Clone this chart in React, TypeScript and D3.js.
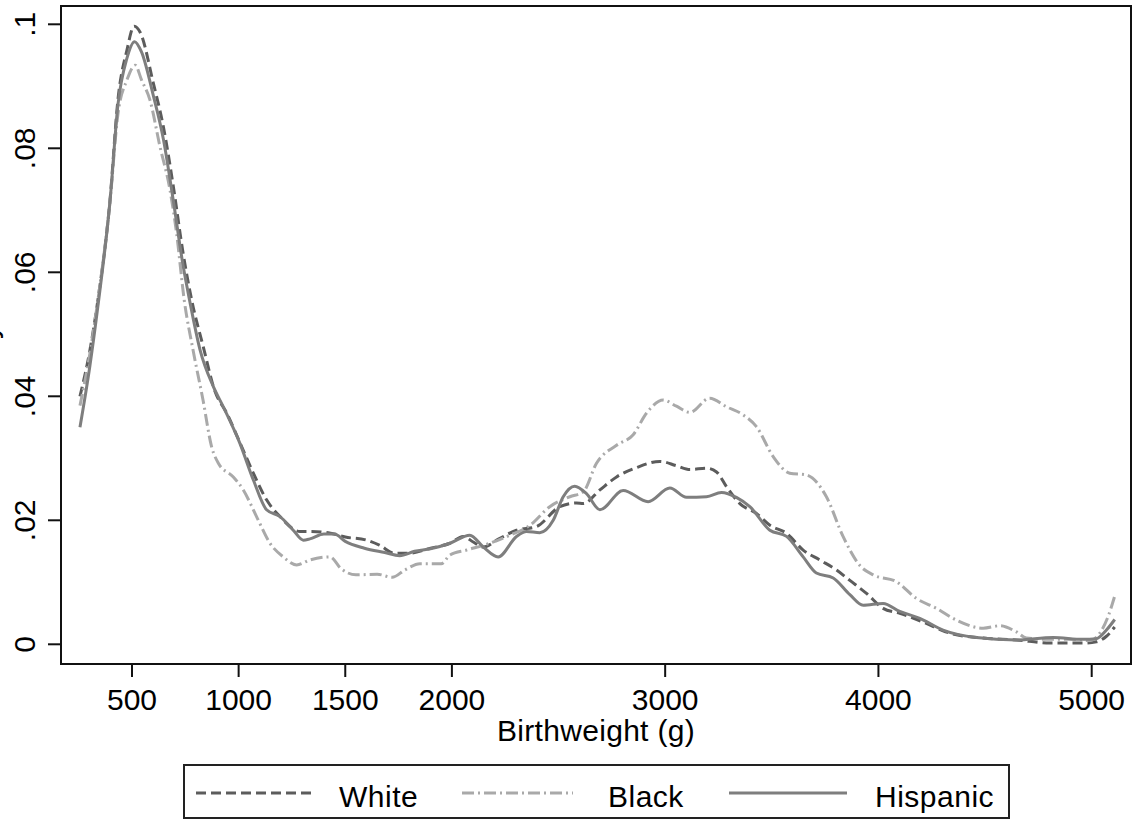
import React from "react";
import * as d3 from "d3";

const xTicks = [500, 1000, 1500, 2000, 3000, 4000, 5000];
const yTicks = [0, 0.02, 0.04, 0.06, 0.08, 0.1];
const yTickLabels = ["0", ".02", ".04", ".06", ".08", ".1"];

const whiteG = [256, 303, 340, 397, 434, 476, 510, 540, 600, 647, 694, 740, 780, 834, 889, 944, 1014, 1069, 1131, 1194, 1288, 1334, 1420, 1500, 1600, 1660, 1730, 1800, 1900, 1991, 2053, 2100, 2147, 2220, 2303, 2397, 2506, 2584, 2616, 2694, 2772, 2866, 2975, 3053, 3116, 3194, 3241, 3288, 3350, 3428, 3491, 3569, 3647, 3725, 3803, 3866, 3944, 4022, 4100, 4209, 4334, 4491, 4647, 4803, 4959, 5022, 5069, 5108];
const whiteD = [0.040, 0.0475, 0.0555, 0.0717, 0.0878, 0.0958, 0.0997, 0.0986, 0.0905, 0.0835, 0.0738, 0.063, 0.0555, 0.048, 0.0408, 0.0373, 0.0319, 0.0276, 0.0233, 0.0206, 0.0182, 0.0182, 0.018, 0.0173, 0.0168, 0.016, 0.0147, 0.0147, 0.0155, 0.0163, 0.0174, 0.0165, 0.0157, 0.017, 0.0184, 0.019, 0.0222, 0.0228, 0.0227, 0.0249, 0.027, 0.0285, 0.0295, 0.0288, 0.0282, 0.0284, 0.0278, 0.0254, 0.0227, 0.0211, 0.0192, 0.0179, 0.0152, 0.0136, 0.012, 0.0103, 0.0082, 0.0058, 0.005, 0.0036, 0.0018, 0.001, 0.0007, 0.0002, 0.0002, 0.0004, 0.0013, 0.0028];

const blackG = [256, 303, 340, 397, 434, 476, 515, 545, 584, 631, 678, 709, 745, 786, 833, 873, 905, 975, 1022, 1084, 1147, 1209, 1272, 1334, 1428, 1480, 1550, 1650, 1720, 1780, 1850, 1950, 1991, 2069, 2178, 2272, 2366, 2459, 2553, 2616, 2678, 2772, 2850, 2913, 2991, 3053, 3116, 3209, 3288, 3366, 3428, 3506, 3584, 3663, 3756, 3834, 3913, 3975, 4084, 4178, 4272, 4366, 4491, 4569, 4647, 4694, 4803, 4897, 4991, 5038, 5077, 5108];
const blackD = [0.0385, 0.047, 0.0555, 0.0715, 0.0855, 0.091, 0.0934, 0.091, 0.0878, 0.0803, 0.0733, 0.0663, 0.0555, 0.0475, 0.0394, 0.0319, 0.0292, 0.027, 0.0249, 0.0206, 0.0163, 0.0141, 0.0128, 0.0136, 0.0141, 0.0122, 0.0112, 0.0113, 0.0108, 0.012, 0.013, 0.013, 0.0144, 0.0152, 0.0163, 0.0176, 0.0192, 0.0222, 0.0238, 0.0246, 0.0292, 0.0321, 0.0338, 0.0373, 0.0394, 0.0384, 0.0374, 0.0397, 0.0383, 0.037, 0.0351, 0.0303, 0.0276, 0.0273, 0.0238, 0.0174, 0.0127, 0.0112, 0.0101, 0.0074, 0.0058, 0.0039, 0.0026, 0.003, 0.002, 0.001, 0.0008, 0.0008, 0.0006, 0.0018, 0.0045, 0.0078];

const hispG = [256, 303, 340, 397, 434, 476, 512, 545, 600, 647, 694, 740, 770, 819, 881, 928, 1006, 1069, 1131, 1194, 1256, 1303, 1334, 1400, 1450, 1500, 1590, 1685, 1755, 1825, 1900, 1991, 2084, 2147, 2217, 2303, 2350, 2412, 2475, 2522, 2576, 2631, 2694, 2803, 2920, 3022, 3100, 3194, 3264, 3334, 3397, 3491, 3569, 3647, 3709, 3788, 3866, 3928, 4022, 4100, 4194, 4303, 4459, 4647, 4819, 4959, 5022, 5069, 5108];
const hispD = [0.035, 0.045, 0.0545, 0.0715, 0.087, 0.0945, 0.0972, 0.0955, 0.0885, 0.0815, 0.0715, 0.061, 0.0555, 0.0475, 0.0416, 0.0383, 0.0324, 0.0265, 0.0217, 0.0206, 0.0184, 0.0168, 0.017, 0.0178, 0.0178, 0.0166, 0.0155, 0.0148, 0.0143, 0.015, 0.0154, 0.0163, 0.0176, 0.0157, 0.0141, 0.0174, 0.0182, 0.018, 0.02, 0.0238, 0.0255, 0.0243, 0.0217, 0.0248, 0.023, 0.0252, 0.0237, 0.0238, 0.0245, 0.0237, 0.0222, 0.0184, 0.0174, 0.0141, 0.0115, 0.0107, 0.008, 0.0063, 0.0066, 0.0053, 0.0042, 0.0023, 0.0011, 0.0007, 0.0011, 0.0008, 0.0009, 0.0023, 0.004];

const seriesNames = ["White", "Black", "Hispanic"];

const FONT = "'Liberation Sans', Arial, Helvetica, sans-serif";

export default function App() {
  const x = d3.scaleLinear().domain([500, 5000]).range([132, 1091.7]);
  const y = d3.scaleLinear().domain([0, 0.1]).range([644.3, 24.3]);
  const line = d3
    .line<[number, number]>()
    .x((d) => x(d[0]))
    .y((d) => y(d[1]))
    .curve(d3.curveMonotoneX);

  const zip = (g: number[], v: number[]) => g.map((gg, i) => [gg, v[i]] as [number, number]);

  const styles = [
    { stroke: "#5c5c5c", dash: "10 5" },
    { stroke: "#a9a9a9", dash: "12 4 2 4" },
    { stroke: "#7e7e7e", dash: "" },
  ];
  const data = [zip(whiteG, whiteD), zip(blackG, blackD), zip(hispG, hispD)];

  const legendItems = [
    { x1: 196, x2: 315, tx: 339 },
    { x1: 462, x2: 573, tx: 608 },
    { x1: 729, x2: 847, tx: 875 },
  ];

  return (
    <svg
      width={1136}
      height={824}
      style={{ position: "absolute", left: 0, top: 0, background: "#fff" }}
      fontFamily={FONT}
    >
      <rect x={0} y={0} width={1136} height={824} fill="#fff" />
      {data.map((d, i) => (
        <path
          key={i}
          d={line(d) || ""}
          fill="none"
          stroke={styles[i].stroke}
          strokeWidth={3}
          strokeDasharray={styles[i].dash || undefined}
          strokeLinejoin="round"
        />
      ))}
      <rect x={61} y={6} width={1070} height={658} fill="none" stroke="#111" strokeWidth={2} />
      {yTicks.map((t, i) => (
        <g key={t}>
          <line x1={48} x2={61} y1={y(t)} y2={y(t)} stroke="#111" strokeWidth={2} />
          <text
            transform={`translate(35,${y(t)}) rotate(-90)`}
            textAnchor="middle"
            fontSize={30}
            fill="#000"
          >
            {yTickLabels[i]}
          </text>
        </g>
      ))}
      {xTicks.map((t) => (
        <g key={t}>
          <line x1={x(t)} x2={x(t)} y1={664} y2={677} stroke="#111" strokeWidth={2} />
          <text x={x(t)} y={710} textAnchor="middle" fontSize={30} fill="#000">
            {t}
          </text>
        </g>
      ))}
      <text x={596} y={741} textAnchor="middle" fontSize={30} letterSpacing={0.3} fill="#000">
        Birthweight (g)
      </text>
      <text
        transform={`translate(-3,324) rotate(-90)`}
        textAnchor="end"
        fontSize={30}
        fill="#000"
      >
        Density
      </text>
      <rect x={184} y={765} width={825} height={53} fill="#fff" stroke="#222" strokeWidth={2} />
      {legendItems.map((it, i) => (
        <g key={i}>
          <line
            x1={it.x1}
            x2={it.x2}
            y1={793}
            y2={793}
            stroke={styles[i].stroke}
            strokeWidth={3}
            strokeDasharray={styles[i].dash || undefined}
          />
          <text x={it.tx} y={807} fontSize={30} letterSpacing={0.5} fill="#000">
            {seriesNames[i]}
          </text>
        </g>
      ))}
    </svg>
  );
}
